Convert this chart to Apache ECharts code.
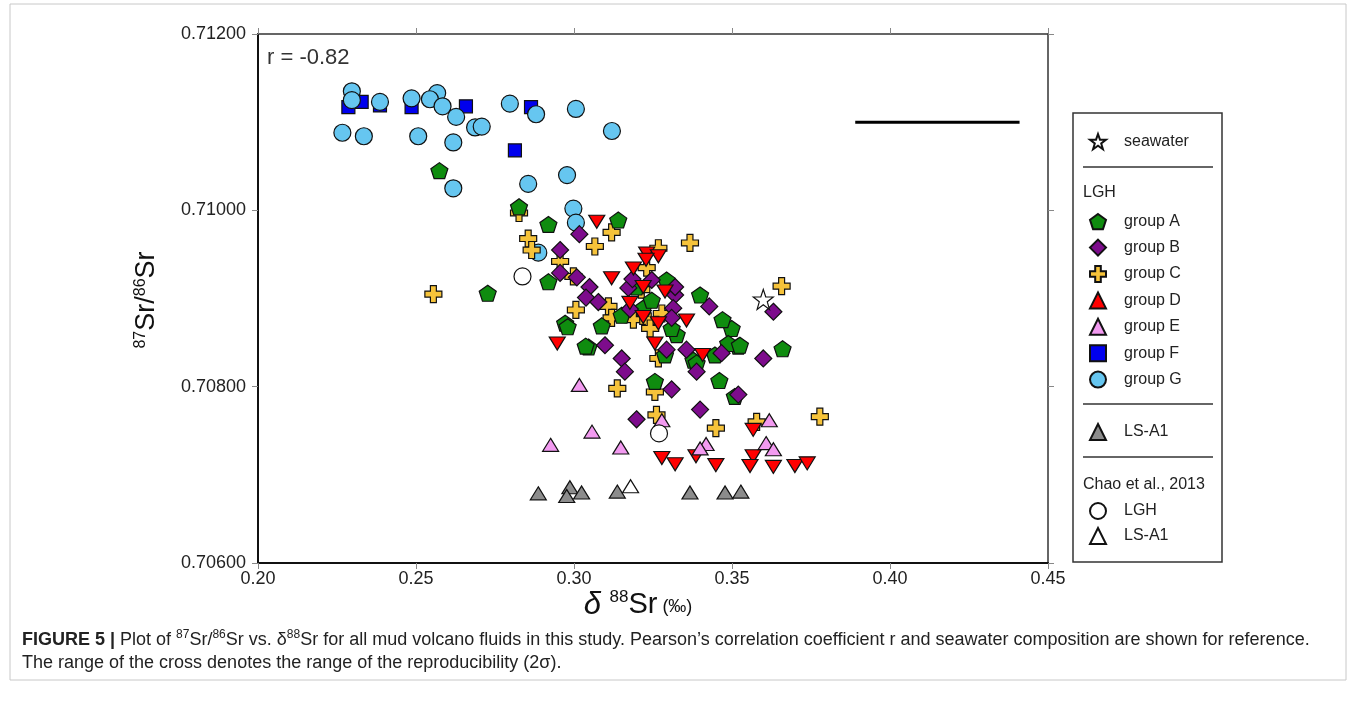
<!DOCTYPE html>
<html><head><meta charset="utf-8">
<script src="https://cdn.jsdelivr.net/npm/echarts/dist/echarts.min.js"></script>
<style>html,body{margin:0;padding:0;background:#fff}#c{width:1356px;height:706px}</style>
</head><body><div id="c"></div>
<script>
// ---- data: [δ88Sr (‰), 87Sr/86Sr] ----
const groupA = [[0.2574,0.71045],[0.2826,0.71004],[0.2919,0.70984],[0.2919,0.70919],[0.2727,0.70906],[0.2972,0.70872],[0.2980,0.70868],[0.3046,0.70845],[0.3037,0.70846],[0.3140,0.70989],[0.3399,0.70904],[0.3499,0.70866],[0.3470,0.70876],[0.3520,0.70846],[0.3488,0.70849],[0.3660,0.70843],[0.3219,0.70889],[0.3293,0.70921],[0.3325,0.70859],[0.3309,0.70866],[0.3088,0.70869],[0.3151,0.70881],[0.3246,0.70898],[0.3378,0.70830],[0.3198,0.70913],[0.3256,0.70806],[0.3460,0.70807],[0.3509,0.70789],[0.3388,0.70827],[0.3446,0.70836],[0.3288,0.70836],[0.3525,0.70847]];
const groupB = [[0.3017,0.70973],[0.2956,0.70955],[0.2956,0.70929],[0.3009,0.70924],[0.3049,0.70913],[0.3038,0.70901],[0.3077,0.70896],[0.3246,0.70921],[0.3172,0.70912],[0.3320,0.70904],[0.3320,0.70913],[0.3314,0.70889],[0.3309,0.70878],[0.3428,0.70891],[0.3631,0.70885],[0.3098,0.70847],[0.3151,0.70832],[0.3161,0.70817],[0.3356,0.70842],[0.3388,0.70817],[0.3467,0.70838],[0.3599,0.70832],[0.3293,0.70842],[0.3185,0.70922],[0.3309,0.70797],[0.3198,0.70763],[0.3399,0.70774],[0.3520,0.70791],[0.3177,0.70888]];
const groupC = [[0.2826,0.70997],[0.2855,0.70968],[0.2866,0.70955],[0.2956,0.70942],[0.2998,0.70925],[0.3006,0.70887],[0.3066,0.70959],[0.2555,0.70905],[0.3119,0.70975],[0.3267,0.70957],[0.3367,0.70963],[0.3230,0.70935],[0.3657,0.70914],[0.3109,0.70891],[0.3119,0.70878],[0.3188,0.70876],[0.3235,0.70874],[0.3241,0.70866],[0.3278,0.70883],[0.3267,0.70832],[0.3137,0.70798],[0.3256,0.70794],[0.3261,0.70768],[0.3449,0.70753],[0.3578,0.70760],[0.3778,0.70766],[0.3213,0.70910]];
const groupD = [[0.3072,0.70987],[0.2947,0.70849],[0.3230,0.70951],[0.3267,0.70948],[0.3228,0.70944],[0.3188,0.70934],[0.3119,0.70923],[0.3219,0.70913],[0.3288,0.70908],[0.3177,0.70895],[0.3219,0.70879],[0.3267,0.70872],[0.3356,0.70875],[0.3256,0.70849],[0.3407,0.70836],[0.3567,0.70751],[0.3278,0.70719],[0.3320,0.70712],[0.3386,0.70721],[0.3449,0.70711],[0.3567,0.70721],[0.3557,0.70710],[0.3631,0.70709],[0.3699,0.70710],[0.3738,0.70713]];
const groupE = [[0.3017,0.70802],[0.3057,0.70749],[0.2926,0.70734],[0.3148,0.70731],[0.3278,0.70762],[0.3418,0.70735],[0.3399,0.70730],[0.3618,0.70762],[0.3608,0.70736],[0.3631,0.70729]];
const groupF = [[0.2286,0.71117],[0.2328,0.71123],[0.2386,0.71119],[0.2486,0.71117],[0.2658,0.71118],[0.2813,0.71068],[0.2864,0.71117]];
const groupG = [[0.2297,0.71135],[0.2297,0.71125],[0.2386,0.71123],[0.2486,0.71127],[0.2567,0.71133],[0.2544,0.71126],[0.2584,0.71118],[0.2627,0.71106],[0.2687,0.71094],[0.2708,0.71095],[0.2797,0.71121],[0.2267,0.71088],[0.2335,0.71084],[0.2507,0.71084],[0.2618,0.71077],[0.2618,0.71025],[0.2880,0.71109],[0.3006,0.71115],[0.3120,0.71090],[0.2978,0.71040],[0.2855,0.71030],[0.2998,0.71002],[0.3006,0.70986],[0.2887,0.70952]];
const lsA1 = [[0.2887,0.70679],[0.2987,0.70686],[0.2977,0.70676],[0.3024,0.70680],[0.3137,0.70681],[0.3367,0.70680],[0.3478,0.70680],[0.3528,0.70681]];
const chaoLGH = [[0.2837,0.70925],[0.3269,0.70747]];
const chaoLSA1 = [[0.3179,0.70687]];
const seawater = [[0.3599,0.70899]];
const crossX = [0.389, 0.441];   // reproducibility (2σ) range
const crossY = 0.7110;
const rText = 'r = -0.82';
const xRange = [0.20, 0.45, 0.05];
const yRange = [0.706, 0.712, 0.002];

const PENT = 'path://M0,-1 L0.951,-0.309 L0.588,0.809 L-0.588,0.809 L-0.951,-0.309 Z';
const PLUS = 'path://M-0.35,-1 L0.35,-1 L0.35,-0.35 L1,-0.35 L1,0.35 L0.35,0.35 L0.35,1 L-0.35,1 L-0.35,0.35 L-1,0.35 L-1,-0.35 L-0.35,-0.35 Z';
const STAR = 'path://M0,-1 L0.235,-0.324 L0.951,-0.309 L0.380,0.124 L0.588,0.809 L0,0.4 L-0.588,0.809 L-0.380,0.124 L-0.951,-0.309 L-0.235,-0.324 Z';
const FONT = 'Liberation Sans, Arial, Helvetica, sans-serif';

function sc(name, data, symbol, size, color, rot) {
  return {
    type: 'scatter', name, data, symbol, symbolSize: size, symbolRotate: rot || 0,
    itemStyle: { color, borderColor: '#111', borderWidth: 1.2, opacity: 1 },
    emphasis: { disabled: true }, animation: false
  };
}

const chart = echarts.init(document.getElementById('c'), null, { renderer: 'canvas' });
const legTxt = { fontSize: 16, color: '#222', fontFamily: FONT, lineHeight: 16, padding: [0, 0, 0, 13] };
const legBase = { orient: 'vertical', left: 1089, padding: 0, itemWidth: 16, itemHeight: 16, textStyle: legTxt, selectedMode: false };

chart.setOption({
  animation: false,
  grid: { left: 258, top: 34, right: 308, bottom: 143, outerBoundsMode: 'none' },
  xAxis: [{
    type: 'value', min: xRange[0], max: xRange[1], interval: xRange[2],
    axisLine: { show: true, onZero: false, lineStyle: { color: '#111', width: 2 } },
    axisTick: { show: true, length: 6, lineStyle: { color: '#888', width: 1 } },
    axisLabel: { fontSize: 18, color: '#222', fontFamily: FONT, margin: 7, formatter: v => v.toFixed(2) },
    splitLine: { show: false }
  }, {
    type: 'value', position: 'top', min: xRange[0], max: xRange[1], interval: xRange[2],
    axisLine: { show: true, onZero: false, lineStyle: { color: '#333', width: 1.5 } },
    axisTick: { show: true, length: 6, lineStyle: { color: '#888', width: 1 } },
    axisLabel: { show: false }, splitLine: { show: false }
  }],
  yAxis: [{
    type: 'value', min: yRange[0], max: yRange[1], interval: yRange[2],
    axisLine: { show: true, onZero: false, lineStyle: { color: '#111', width: 2 } },
    axisTick: { show: true, length: 6, lineStyle: { color: '#888', width: 1 } },
    axisLabel: { fontSize: 18, color: '#222', fontFamily: FONT, margin: 12, formatter: v => v.toFixed(5) },
    splitLine: { show: false }
  }, {
    type: 'value', position: 'right', min: yRange[0], max: yRange[1], interval: yRange[2],
    axisLine: { show: true, onZero: false, lineStyle: { color: '#333', width: 1.5 } },
    axisTick: { show: true, length: 6, lineStyle: { color: '#888', width: 1 } },
    axisLabel: { show: false }, splitLine: { show: false }
  }],
  legend: [
    Object.assign({}, legBase, { top: 133, itemGap: 8, data: ['seawater'] }),
    Object.assign({}, legBase, { top: 213, itemGap: 8.4, data: ['group A','group B','group C','group D','group E','group F','group G'] }),
    Object.assign({}, legBase, { top: 423, itemGap: 8, data: ['LS-A1'] }),
    Object.assign({}, legBase, { top: 502, itemGap: 7, data: ['Chao LGH','Chao LS-A1'], formatter: n => n.replace('Chao ', '') })
  ],
  series: [
    sc('group F', groupF, 'rect', 13, '#0000ee'),
    sc('group G', groupG, 'circle', 17, '#66c6f0'),
    sc('group C', groupC, PLUS, 17, '#f6c33a'),
    sc('group A', groupA, PENT, [17, 16], '#0f8c0f'),
    sc('group B', groupB, 'diamond', 17, '#7d0c8c'),
    sc('group D', groupD, 'triangle', [16, 13], '#ff0000', 180),
    sc('group E', groupE, 'triangle', [16, 13], '#f29af0'),
    sc('LS-A1', lsA1, 'triangle', [16, 13], '#8c8c8c'),
    sc('Chao LGH', chaoLGH, 'circle', 17, '#ffffff'),
    sc('Chao LS-A1', chaoLSA1, 'triangle', [16, 13], '#ffffff'),
    sc('seawater', seawater, STAR, 20, '#ffffff'),
    {
      type: 'line', name: 'reproducibility', data: crossX.map(x => [x, crossY]),
      symbol: 'none', lineStyle: { color: '#000', width: 3 }, animation: false, silent: true
    }
  ],
  graphic: [
    { type: 'rect', silent: true, shape: { x: 10, y: 4, width: 1336, height: 676 }, style: { fill: 'none', stroke: '#c8c8c8', lineWidth: 1 } },
    { type: 'text', silent: true, x: 267, y: 58, style: { text: rText, fontSize: 22, fill: '#333', font: '22px ' + FONT, verticalAlign: 'middle' } },
    { type: 'text', silent: true, x: 147, y: 300, rotation: Math.PI / 2,
      style: { text: '{s|87}{b|Sr/}{s|86}{b|Sr}', align: 'center', verticalAlign: 'middle',
        rich: { s: { fontSize: 16, fontFamily: FONT, fill: '#111', verticalAlign: 'top', lineHeight: 28 },
                b: { fontSize: 27, fontFamily: FONT, fill: '#111', lineHeight: 28 } } } },
    { type: 'text', silent: true, x: 638, y: 605,
      style: { text: '{d|δ }{s|88}{b|Sr}{p| (‰)}', align: 'center', verticalAlign: 'middle',
        rich: { d: { fontSize: 31, fontStyle: 'italic', fontFamily: FONT, fill: '#111', lineHeight: 32 },
                s: { fontSize: 17, fontFamily: FONT, fill: '#111', verticalAlign: 'top', lineHeight: 32 },
                b: { fontSize: 29, fontFamily: FONT, fill: '#111', lineHeight: 32 },
                p: { fontSize: 18, fontFamily: FONT, fill: '#111', lineHeight: 32, padding: [4, 0, 0, 0] } } } },
    // legend frame, headings and separators
    { type: 'rect', silent: true, shape: { x: 1073, y: 113, width: 149, height: 449 }, style: { fill: 'none', stroke: '#333', lineWidth: 1.5 } },
    { type: 'line', silent: true, shape: { x1: 1083, y1: 167, x2: 1213, y2: 167 }, style: { stroke: '#333', lineWidth: 1.5 } },
    { type: 'line', silent: true, shape: { x1: 1083, y1: 404, x2: 1213, y2: 404 }, style: { stroke: '#333', lineWidth: 1.5 } },
    { type: 'line', silent: true, shape: { x1: 1083, y1: 457, x2: 1213, y2: 457 }, style: { stroke: '#333', lineWidth: 1.5 } },
    { type: 'text', silent: true, x: 1083, y: 193, style: { text: 'LGH', fontSize: 16, fill: '#222', fontFamily: FONT, verticalAlign: 'middle' } },
    { type: 'text', silent: true, x: 1083, y: 485, style: { text: 'Chao et al., 2013', fontSize: 16, fill: '#222', fontFamily: FONT, verticalAlign: 'middle' } },
    // caption
    { type: 'text', silent: true, x: 22, y: 640,
      style: { text: '{b|FIGURE 5 | }{n|Plot of }{s|87}{n|Sr/}{s|86}{n|Sr vs. δ}{s|88}{n|Sr for all mud volcano fluids in this study. Pearson’s correlation coefficient r and seawater composition are shown for reference.}',
        verticalAlign: 'middle',
        rich: { b: { fontSize: 18, fontWeight: 'bold', fontFamily: FONT, fill: '#222', lineHeight: 22 },
                n: { fontSize: 18, fontFamily: FONT, fill: '#222', lineHeight: 22 },
                s: { fontSize: 12, fontFamily: FONT, fill: '#222', verticalAlign: 'top', lineHeight: 22 } } } },
    { type: 'text', silent: true, x: 22, y: 663,
      style: { text: 'The range of the cross denotes the range of the reproducibility (2σ).', fontSize: 18, fontFamily: FONT, fill: '#222', verticalAlign: 'middle' } }
  ]
});
</script></body></html>
